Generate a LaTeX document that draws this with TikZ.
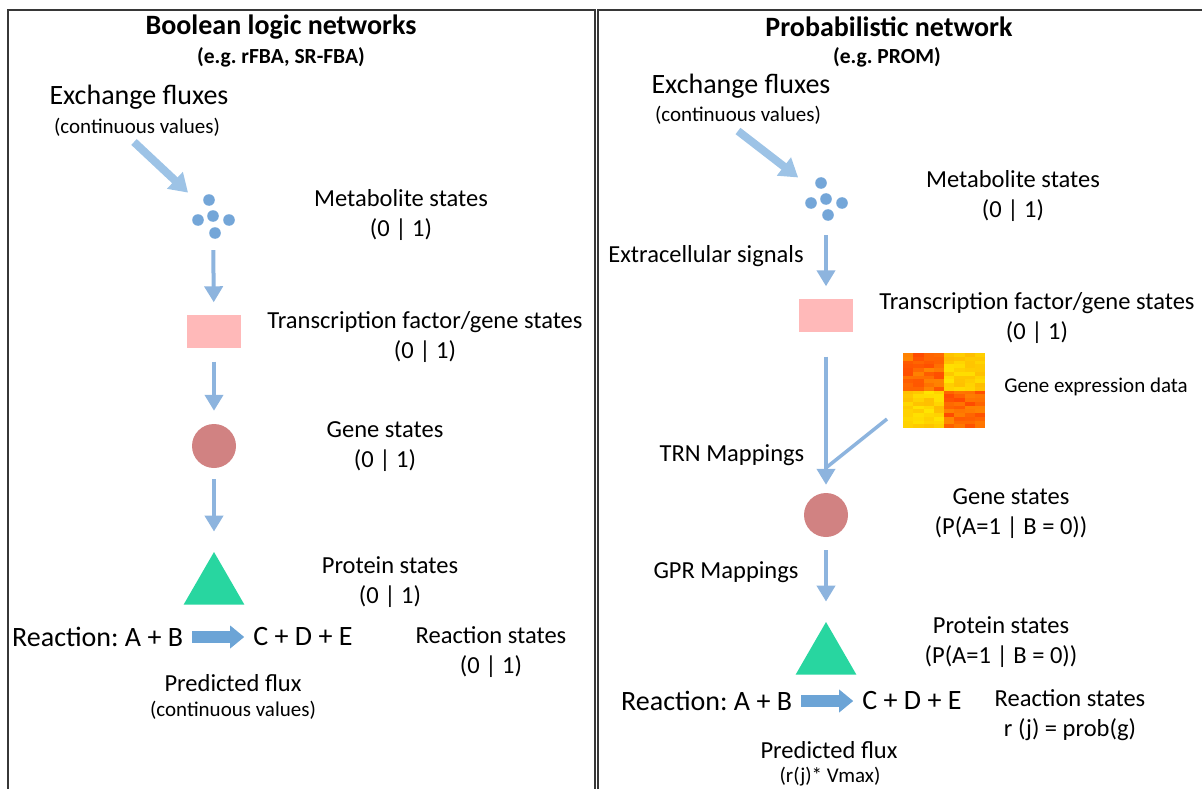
\documentclass[tikz,border=0pt]{standalone}
\usepackage{fontspec}
\setmainfont{Carlito}
\frenchspacing
\usetikzlibrary{arrows.meta, positioning, shapes.geometric}

\definecolor{panelgray}{RGB}{55,55,55}
\definecolor{flowblue}{RGB}{141,180,222}
\definecolor{fluxblue}{RGB}{157,195,230}
\definecolor{dotblue}{RGB}{116,166,216}
\definecolor{rxnblue}{RGB}{108,164,214}
\definecolor{tfpink}{RGB}{255,185,185}
\definecolor{generose}{RGB}{209,130,130}
\definecolor{protgreen}{RGB}{40,214,160}
\definecolor{hmred}{RGB}{255,72,0}
\definecolor{hmyellow}{RGB}{255,236,0}

\newcommand{\ttlfont}{\fontsize{28}{32}\selectfont\bfseries}
\newcommand{\subttlfont}{\fontsize{21.5}{26}\selectfont\bfseries}
\newcommand{\xchfont}{\fontsize{28}{32}\selectfont}
\newcommand{\notefont}{\fontsize{21}{26}\selectfont}
\newcommand{\stfont}{\fontsize{24.5}{30}\selectfont}
\newcommand{\rxfont}{\fontsize{28}{32}\selectfont}

\begin{document}
\begin{tikzpicture}[
            x = 1pt, y = -1pt, % pixel grid, y runs downwards
            > = {Triangle[length=16pt, width=18pt]}, % arrow head style
            every node/.style = {inner sep = 0pt},
            node distance = 70pt
        ]

        \tikzstyle{panel}=[draw = panelgray, line width = 1.8pt]
        \tikzstyle{flow}=[->, draw = flowblue, line width = 4pt, shorten < = 12pt, shorten > = 12pt]
        \tikzstyle{flowline}=[draw = flowblue, line width = 3.5pt]
        \tikzstyle{flux}=[-{Triangle[length=18pt, width=22pt]}, draw = fluxblue, line width = 8pt, shorten > = 11pt]
        \tikzstyle{rxn}=[-{Triangle[length=14pt, width=22pt]}, draw = rxnblue, line width = 12pt, shorten < = 9pt, shorten > = 9pt]
        \tikzstyle{metspot}=[circle, minimum size = 46pt]
        \tikzstyle{tfbox}=[rectangle, fill = tfpink, minimum width = 54pt, minimum height = 33pt]
        \tikzstyle{genedot}=[circle, fill = generose, minimum size = 44pt]
        \tikzstyle{prottri}=[regular polygon, regular polygon sides = 3, fill = protgreen, minimum size = 70pt]
        \tikzstyle{statelabel}=[align = center, font = \stfont]

        \useasboundingbox (0,0) rectangle (1202,789);

        % the two panels
        \draw[panel] (8,789) -- (8,10) -- (595,10) -- (595,789);
        \draw[panel] (598,789) -- (598,10) -- (1202,10);

        % Boolean logic networks
        \node[font = \ttlfont] (ttl1) at (281,27) {Boolean logic networks};
        \node[font = \subttlfont] (sub1) at (281,57) {(e.g. rFBA, SR-FBA)};
        \node[font = \xchfont] (xch1) at (139,97) {Exchange fluxes};
        \node[font = \notefont] (cont1) at (137,127) {(continuous values)};
        \coordinate (xtail1) at (134,142);

        \node[metspot] (met1) at (213,216) {};
        \foreach \dx/\dy in {-4/-16, -15/4, 0/0, 16/4, 2/17}
            \fill[dotblue] (met1) ++(\dx,\dy) circle (5.8);
        \node[tfbox] (tf1) at (214,331) {};
        \node[genedot] (gene1) at (214,446) {};
        \node[prottri] (prot1) at (214,587) {};

        \node[statelabel] (lmet1) at (401,215) {Metabolite states\\(0 | 1)};
        \node[statelabel] (ltf1) at (425,337) {Transcription factor/gene states\\(0 | 1)};
        \node[statelabel] (lgene1) at (385,447) {Gene states\\(0 | 1)};
        \node[statelabel] (lprot1) at (390,582) {Protein states\\(0 | 1)};

        \node[font = \rxfont, anchor = west] (rxA1) at (12,637) {Reaction: A + B};
        \node[font = \rxfont, right = of rxA1] (rxB1) {C + D + E};
        \node[statelabel] (lrx1) at (491,652) {Reaction states\\(0 | 1)};
        \node[font = \stfont] (pf1) at (233,683) {Predicted flux};
        \node[font = \notefont] (pfc1) at (233,710) {(continuous values)};

        \draw[flux] (xtail1) -- (met1);
        \draw[flow, shorten < = 11pt] (met1) -- (tf1);
        \draw[flow, shorten < = 14pt, shorten > = 13pt] (tf1) -- (gene1);
        \draw[flow, shorten < = 11pt, shorten > = 20pt] (gene1) -- (prot1);
        \draw[rxn] (rxA1) -- (rxB1);

        % Probabilistic network
        \node[font = \ttlfont] (ttl2) at (889,27) {Probabilistic network};
        \node[font = \subttlfont] (sub2) at (887,57) {(e.g. PROM)};
        \node[font = \xchfont] (xch2) at (741,86) {Exchange fluxes};
        \node[font = \notefont] (cont2) at (738,115) {(continuous values)};
        \coordinate (xtail2) at (738,131);

        \node[metspot] (met2) at (826,199) {};
        \foreach \dx/\dy in {-5/-16, -15/4, 0/0, 16/4, 2/16}
            \fill[dotblue] (met2) ++(\dx,\dy) circle (5.8);
        \node[tfbox] (tf2) at (826,315) {};
        \node[minimum width = 82pt, minimum height = 75pt] (hm) at (944,390.5) {};
        \pgfmathsetseed{3}
        \foreach \i in {0,...,19}{
            \foreach \j in {0,...,7}{
                \pgfmathtruncatemacro{\blk}{(\i<10)==(\j<4)}
                \pgfmathtruncatemacro{\p}{\blk==1 ? 62+38*rnd : 4+26*rnd}
                \fill[hmred!\p!hmyellow] (903+\j*10.25, 353+\i*3.75) rectangle ++(10.35,3.85);
            }
        }
        \node[genedot] (gene2) at (826,515) {};
        \node[prottri] (prot2) at (826,657) {};

        \node[statelabel] (lmet2) at (1013,196) {Metabolite states\\(0 | 1)};
        \node[font = \stfont] (ext2) at (706,256) {Extracellular signals};
        \node[statelabel] (ltf2) at (1037,318) {Transcription factor/gene states\\(0 | 1)};
        \node[font = \notefont] (lhm) at (1096,387) {Gene expression data};
        \node[font = \stfont] (trn2) at (732,455) {TRN Mappings};
        \node[statelabel] (lgene2) at (1011,514) {Gene states\\(P(A=1 | B = 0))};
        \node[font = \stfont] (gpr2) at (726,572) {GPR Mappings};
        \node[statelabel] (lprot2) at (1001,642) {Protein states\\(P(A=1 | B = 0))};

        \node[font = \rxfont, anchor = west] (rxA2) at (621,701) {Reaction: A + B};
        \node[font = \rxfont, right = of rxA2] (rxB2) {C + D + E};
        \node[statelabel] (lrx2) at (1070,715) {Reaction states\\r (j) = prob(g)};
        \node[font = \stfont] (pf2) at (829,750) {Predicted flux};
        \node[font = \notefont] (pfv2) at (830,777) {(r(j)* Vmax)};

        \coordinate (hmfoot) at (887,419);
        \coordinate (trnjoin) at (827,467);
        \draw[flux, shorten > = 12pt] (xtail2) -- (met2);
        \draw[flow, shorten < = 13pt] (met2) -- (tf2);
        \draw[flow, shorten < = 25pt, shorten > = 8pt] (tf2) -- (gene2);
        \draw[flowline] (hmfoot) -- (trnjoin);
        \draw[flow, shorten < = 13pt, shorten > = 20pt] (gene2) -- (prot2);
        \draw[rxn] (rxA2) -- (rxB2);

  \end{tikzpicture}
\end{document}
